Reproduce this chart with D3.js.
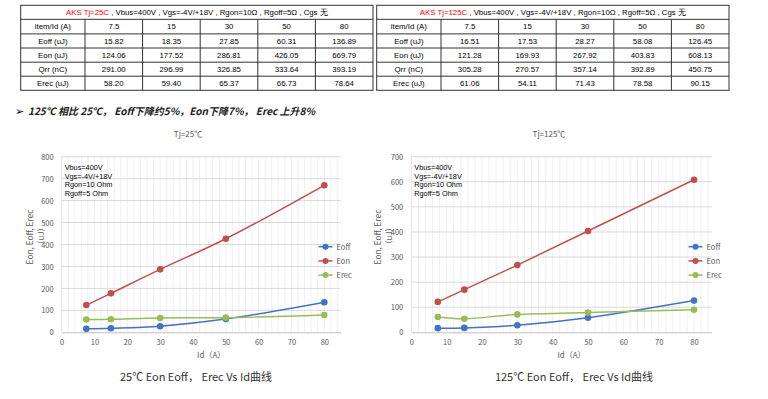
<!DOCTYPE html>
<meta charset="utf-8">
<style>
body { margin: 0; background: #fff; }
svg text { font-family: "Liberation Sans", Arial, sans-serif; }
.tbl text { font-size: 7.8px; fill: #000; }
.tick text { font-family: "Noto Sans CJK SC", sans-serif; font-size: 7.5px; fill: #595959; }
.cjk { font-family: "Noto Sans CJK SC", sans-serif !important; }
</style>
<svg width="768" height="399"></svg>
<script src="https://d3js.org/d3.v7.min.js"></script>
<script>

// ---- data ----
var ids = [7.5, 15, 30, 50, 80];
var rowNames = ["Eoff (uJ)", "Eon (uJ)", "Qrr (nC)", "Erec (uJ)"];

var eoff25 = [15.82, 18.35, 27.85, 60.31, 136.89];
var eon25  = [124.06, 177.52, 286.81, 426.05, 669.79];
var qrr25  = [291.00, 296.99, 326.85, 333.64, 393.19];
var erec25 = [58.20, 59.40, 65.37, 66.73, 78.64];

var eoff125 = [16.51, 17.53, 28.27, 58.08, 126.45];
var eon125  = [121.28, 169.93, 267.92, 403.83, 608.13];
var qrr125  = [305.28, 270.57, 357.14, 392.89, 450.75];
var erec125 = [61.06, 54.11, 71.43, 78.58, 90.15];

var xTicks = [0, 10, 20, 30, 40, 50, 60, 70, 80];
var yTicks25 = [0, 100, 200, 300, 400, 500, 600, 700, 800];
var yTicks125 = [0, 100, 200, 300, 400, 500, 600, 700];
var notes = ["Vbus=400V", "Vgs=-4V/+18V", "Rgon=10 Ohm", "Rgoff=5 Ohm"];
var seriesNames = ["Eoff", "Eon", "Erec"];
var seriesColors = ["#4472c4", "#c0504d", "#9bbb59"];

var svg = d3.select("svg");

// ---- tables ----
function drawTable(x0, redPart, rest, rows) {
  var g = svg.append("g").attr("class", "tbl");
  var colW = [64.3].concat(d3.range(5).map(function() { return 57.6; }));
  var colX = [x0];
  colW.forEach(function(w, i) { colX.push(colX[i] + w); });
  var rowY = [5.3, 19.3, 33.9, 48, 62.2, 76.2, 90.3];
  var w = colX[6] - x0;

  g.append("rect").attr("x", x0).attr("y", rowY[0]).attr("width", w).attr("height", rowY[6] - rowY[0])
    .attr("fill", "none").attr("stroke", "#333").attr("stroke-width", 1);
  rowY.slice(1, 6).forEach(function(y) {
    g.append("line").attr("x1", x0).attr("x2", x0 + w).attr("y1", y).attr("y2", y)
      .attr("stroke", "#333").attr("stroke-width", 1);
  });
  colX.slice(1, 6).forEach(function(x) {
    g.append("line").attr("x1", x).attr("x2", x).attr("y1", rowY[1]).attr("y2", rowY[6])
      .attr("stroke", "#333").attr("stroke-width", 1);
  });

  var t = g.append("text").attr("x", x0 + w / 2).attr("y", (rowY[0] + rowY[1]) / 2 + 2.8)
    .attr("text-anchor", "middle");
  t.append("tspan").attr("fill", "#ff0000").text(redPart);
  t.append("tspan").text(rest);

  var header = ["item/Id (A)"].concat(ids.map(String));
  header.forEach(function(h, i) {
    g.append("text").attr("x", (colX[i] + colX[i + 1]) / 2).attr("y", (rowY[1] + rowY[2]) / 2 + 2.8)
      .attr("text-anchor", "middle").text(h);
  });
  rows.forEach(function(vals, r) {
    var cells = [rowNames[r]].concat(vals.map(function(v) { return v.toFixed(2); }));
    cells.forEach(function(c, i) {
      g.append("text").attr("x", (colX[i] + colX[i + 1]) / 2).attr("y", (rowY[r + 2] + rowY[r + 3]) / 2 + 2.8)
        .attr("text-anchor", "middle").text(c);
    });
  });
}

drawTable(20.7, "AKS Tj=25C", " , Vbus=400V , Vgs=-4V/+18V , Rgon=10Ω , Rgoff=5Ω , Cgs 无",
  [eoff25, eon25, qrr25, erec25]);
drawTable(376.7, "AKS Tj=125C", " , Vbus=400V , Vgs=-4V/+18V , Rgon=10Ω , Rgoff=5Ω , Cgs 无",
  [eoff125, eon125, qrr125, erec125]);

// bullet
svg.append("text").attr("x", 15).attr("y", 115).attr("font-size", 11)
  .style("font-family", "DejaVu Sans").attr("fill", "#000").text("➢");
svg.append("text").attr("class", "cjk").attr("x", 28).attr("y", 114.5)
  .attr("font-size", 10).attr("font-style", "italic").attr("font-weight", "bold").attr("fill", "#222")
  .text("125℃ 相比 25℃， Eoff下降约5%，Eon下降7%， Erec 上升8%");

// ---- charts ----
function drawChart(c) {
  var x = d3.scaleLinear().domain([0, 85]).range([c.left, c.right]);
  var y = d3.scaleLinear().domain([0, c.ymax]).range([332.3, 156.7]);
  var g = svg.append("g");

  // minor vertical grid
  g.append("g").selectAll("line").data(d3.range(2, 85, 2)).enter().append("line")
    .attr("x1", function(d) { return x(d); }).attr("x2", function(d) { return x(d); })
    .attr("y1", y(0)).attr("y2", y(c.ymax))
    .attr("stroke", "#ececec").attr("stroke-width", 0.8);
  // major horizontal grid
  g.append("g").selectAll("line").data(c.yTicks.slice(1)).enter().append("line")
    .attr("x1", x(0)).attr("x2", x(85))
    .attr("y1", function(d) { return y(d); }).attr("y2", function(d) { return y(d); })
    .attr("stroke", "#d9d9d9").attr("stroke-width", 1);
  g.append("line").attr("x1", x(0)).attr("x2", x(0)).attr("y1", y(0)).attr("y2", y(c.ymax))
    .attr("stroke", "#e3e3e3").attr("stroke-width", 1);

  var xa = g.append("g").attr("transform", "translate(0," + y(0) + ")")
    .call(d3.axisBottom(x).tickValues(xTicks).tickSize(0).tickPadding(7));
  xa.select(".domain").attr("stroke", "#bfbfbf");
  var ya = g.append("g").attr("transform", "translate(" + (x(0) - 4) + ",0)")
    .call(d3.axisLeft(y).tickValues(c.yTicks).tickSize(0).tickPadding(4));
  ya.select(".domain").remove();
  ya.selectAll("text").attr("dy", "0.35em");

  g.append("text").attr("class", "cjk").attr("x", c.titleX).attr("y", 136.5).attr("text-anchor", "middle")
    .attr("font-size", 8).attr("fill", "#595959").text(c.title);
  g.append("text").attr("class", "cjk").attr("x", (x(0) + x(85)) / 2 + 10).attr("y", 358).attr("text-anchor", "middle")
    .attr("font-size", 8).attr("fill", "#595959").text("Id（A）");
  g.append("text").attr("class", "cjk").attr("transform", "translate(" + c.ytX + ",237) rotate(-90)")
    .attr("text-anchor", "middle").attr("font-size", 8.3).attr("fill", "#595959").text("Eon, Eoff, Erec");
  g.append("text").attr("class", "cjk").attr("transform", "translate(" + (c.ytX + 10.5) + ",236) rotate(-90)")
    .attr("text-anchor", "middle").attr("font-size", 8).attr("fill", "#595959").text("（uJ）");

  g.append("g").selectAll("text").data(notes).enter().append("text")
    .attr("x", x(0) + 3).attr("y", function(d, i) { return 170 + i * 8.5; })
    .attr("font-size", 7.3).attr("fill", "#000").text(function(d) { return d; });

  var line = d3.line()
    .x(function(d, i) { return x(ids[i]); })
    .y(function(d) { return y(d); })
    .curve(d3.curveCatmullRom.alpha(0.5));

  c.series.forEach(function(s, k) {
    g.append("path").datum(s).attr("d", line).attr("fill", "none")
      .attr("stroke", seriesColors[k]).attr("stroke-width", 1.5);
    g.append("g").selectAll("circle").data(s).enter().append("circle")
      .attr("cx", function(d, i) { return x(ids[i]); }).attr("cy", function(d) { return y(d); })
      .attr("r", 3.3).attr("fill", seriesColors[k]);
  });

  // legend
  seriesNames.forEach(function(n, k) {
    var ly = 246.7 + k * 14.2;
    g.append("line").attr("x1", c.legX).attr("x2", c.legX + 14).attr("y1", ly).attr("y2", ly)
      .attr("stroke", seriesColors[k]).attr("stroke-width", 1.5);
    g.append("circle").attr("cx", c.legX + 7).attr("cy", ly).attr("r", 3).attr("fill", seriesColors[k]);
    g.append("text").attr("class", "cjk").attr("x", c.legX + 18).attr("y", ly + 2.8)
      .attr("font-size", 7.5).attr("fill", "#595959").text(n);
  });

  g.append("text").attr("class", "cjk").attr("x", c.capX).attr("y", 381).attr("text-anchor", "middle")
    .attr("font-size", 11).attr("fill", "#333").text(c.caption);
}

drawChart({
  left: 61.7, right: 340.7, ymax: 800, yTicks: yTicks25,
  title: "Tj=25℃", titleX: 188, ytX: 33, legX: 318.5, capX: 196,
  caption: "25℃ Eon Eoff， Erec Vs Id曲线",
  series: [eoff25, eon25, erec25]
});
drawChart({
  left: 411.3, right: 711.7, ymax: 700, yTicks: yTicks125,
  title: "Tj=125℃", titleX: 549, ytX: 381, legX: 688.5, capX: 574,
  caption: "125℃ Eon Eoff， Erec Vs Id曲线",
  series: [eoff125, eon125, erec125]
});

</script>
